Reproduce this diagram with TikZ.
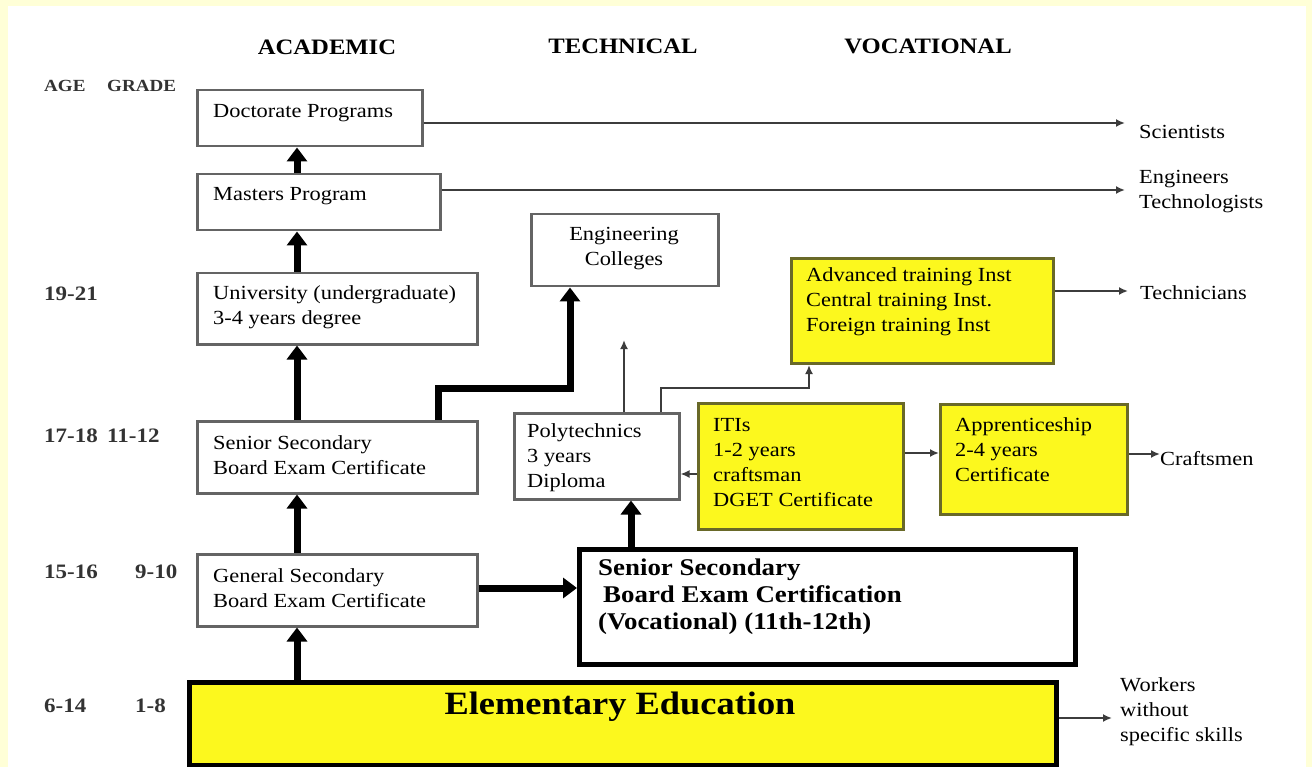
\documentclass[tikz,border=0pt]{standalone}
\usepackage{fontspec}
\setmainfont{Liberation Serif}[FakeStretch=1.12]
\usetikzlibrary{arrows.meta}
\definecolor{bgyellow}{RGB}{255,255,215}
\definecolor{boxgray}{RGB}{100,100,100}
\definecolor{yfill}{RGB}{252,248,30}
\definecolor{yborder}{RGB}{105,105,40}
\definecolor{linegray}{RGB}{60,60,60}
\tikzset{
  gbox/.style={draw=boxgray, line width=2.5pt, fill=white, anchor=north west, inner sep=0pt},
  ybox/.style={draw=yborder, line width=3pt, fill=yfill, anchor=north west, inner sep=0pt},
  kbox/.style={draw=black, line width=4.5pt, fill=white, anchor=north west, inner sep=0pt},
  txt/.style={anchor=west, align=left, inner sep=0pt, font=\fontsize{20}{25}\selectfont},
  btxt/.style={anchor=west, align=left, inner sep=0pt, font=\bfseries\fontsize{24}{27}\selectfont},
  head/.style={anchor=center, inner sep=0pt, font=\bfseries\fontsize{22}{25}\selectfont},
  agetxt/.style={anchor=west, inner sep=0pt, text=black!80, font=\bfseries\fontsize{20.5}{23}\selectfont},
  rtxt/.style={anchor=west, align=left, inner ysep=0pt, font=\fontsize{20}{25}\selectfont},
  thickarr/.style={line width=7pt, -{Triangle[length=14pt,width=20pt]}},
  thinarr/.style={line width=2pt, draw=linegray, -{Latex[length=9pt,width=8pt]}}
}
\begin{document}
\begin{tikzpicture}[x=1pt,y=-1pt]
\useasboundingbox (0,0) rectangle (1312,767);
\fill[bgyellow] (0,0) rectangle (1312,767);
\fill[white] (8,6) rectangle (1306,767);

% column headings
\node[head] (hacad) at (327,47) {ACADEMIC};
\node[head] (htech) at (623,46) {TECHNICAL};
\node[head] (hvoc) at (928,46) {VOCATIONAL};
\node[agetxt, font=\bfseries\fontsize{17}{20}\selectfont] (hage) at (44,86) {AGE};
\node[agetxt, font=\bfseries\fontsize{17}{20}\selectfont] (hgrade) at (107,86) {GRADE};

% age / grade labels
\node[agetxt] (a1921) at (44,294) {19-21};
\node[agetxt] (a1718) at (44,436) {17-18};
\node[agetxt] (g1112) at (107,436) {11-12};
\node[agetxt] (a1516) at (44,572) {15-16};
\node[agetxt] (g910) at (135,572) {9-10};
\node[agetxt] (a614) at (44,706) {6-14};
\node[agetxt] (g18) at (135,706) {1-8};

% boxes
\node[gbox, minimum width=225pt, minimum height=56pt] (doc) at (196,89) {};
\node[gbox, minimum width=243pt, minimum height=56pt] (mas) at (196,173) {};
\node[gbox, minimum width=280pt, minimum height=71pt] (uni) at (196,272) {};
\node[gbox, minimum width=280pt, minimum height=72pt] (sen) at (196,420) {};
\node[gbox, minimum width=280pt, minimum height=72pt] (gen) at (196,553) {};
\node[gbox, minimum width=187pt, minimum height=72pt] (eng) at (530,213) {};
\node[gbox, minimum width=165pt, minimum height=86pt] (pol) at (513,412) {};
\node[ybox, minimum width=262pt, minimum height=105pt] (adv) at (790,257) {};
\node[ybox, minimum width=205pt, minimum height=126pt] (iti) at (697,402) {};
\node[ybox, minimum width=187pt, minimum height=110pt] (app) at (939,403) {};
\node[kbox, minimum width=496pt, minimum height=115pt] (voc) at (577,547) {};
\node[kbox, fill=yfill, minimum width=867pt, minimum height=83pt] (elem) at (187,680) {};

% box texts
\node[txt] (tdoc) at (213,113) {Doctorate Programs};
\node[txt] (tmas) at (213,196) {Masters Program};
\node[txt] (tuni) at (213,307) {University (undergraduate)\\3-4 years degree};
\node[txt] (tsen) at (213,455) {Senior Secondary\\Board Exam Certificate};
\node[txt] (tgen) at (213,588) {General Secondary\\Board Exam Certificate};
\node[txt, anchor=center, align=center] (teng) at (624,249) {Engineering\\Colleges};
\node[txt] (tpol) at (527,458) {Polytechnics\\3 years\\Diploma};
\node[txt] (tadv) at (806,302) {Advanced training Inst\\Central training Inst.\\Foreign training Inst};
\node[txt] (titi) at (713,463) {ITIs\\1-2 years\\craftsman\\DGET Certificate};
\node[txt] (tapp) at (955,450) {Apprenticeship\\2-4 years\\Certificate};
\node[btxt] (tvoc) at (598,597) {Senior Secondary\\\hspace*{5pt}Board Exam Certification\\(Vocational) (11th-12th)};
\node[anchor=center, inner sep=0pt, font=\bfseries\fontsize{32.5}{38}\selectfont] (telem) at (620,707) {Elementary Education};

% outcome labels
\node[rtxt, inner xsep=14pt] (sci) at (1125,132) {Scientists};
\node[rtxt, inner xsep=14pt] (engr) at (1125,192) {Engineers\\Technologists};
\node[rtxt, inner xsep=12pt] (tech) at (1128,293) {Technicians};
\node[rtxt, inner xsep=0pt] (craft) at (1160,459) {Craftsmen};
\node[rtxt, inner xsep=8pt] (work) at (1112,712) {Workers\\without\\specific skills};

% thick academic arrows
\draw[thickarr] (mas.north -| 297,0) -- (doc.south -| 297,0);
\draw[thickarr] (uni.north -| 297,0) -- (mas.south -| 297,0);
\draw[thickarr] (sen.north -| 297,0) -- (uni.south -| 297,0);
\draw[thickarr] (gen.north -| 297,0) -- (sen.south -| 297,0);
\draw[thickarr] (elem.north -| 297,0) -- (gen.south -| 297,0);
\draw[thickarr] (gen.east |- 0,588) -- (voc.west |- 0,588);
\draw[thickarr] (voc.north -| 631,0) -- (pol.south -| 631,0);
\draw[thickarr] (sen.north -| 438,0) |- (570,388) -- (eng.south -| 570,0);

% thin arrows
\coordinate (polup) at (624,340);
\draw[thinarr] (pol.north -| 624,0) -- (polup);
\draw[thinarr] (pol.north -| 661,0) |- (809,388) -- (adv.south -| 809,0);
\draw[thinarr] (iti.west |- 0,474) -- (pol.east |- 0,474);
\draw[thinarr] (iti.east |- 0,453) -- (app.west |- 0,453);
\draw[thinarr] (app.east |- 0,454) -- (craft.west |- 0,454);
\draw[thinarr] (adv.east |- 0,291) -- (tech.west |- 0,291);
\draw[thinarr] (doc.east |- 0,123) -- (sci.west |- 0,123);
\draw[thinarr] (mas.east |- 0,190) -- (engr.west |- 0,190);
\draw[thinarr] (elem.east |- 0,718) -- (work.west |- 0,718);
\end{tikzpicture}
\end{document}
